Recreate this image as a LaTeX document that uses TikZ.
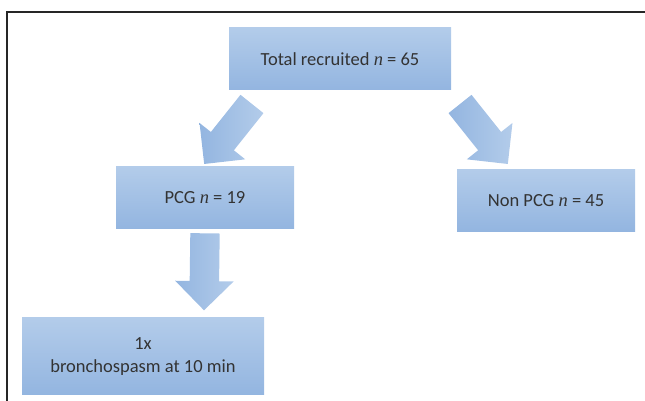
\documentclass[tikz,border=0pt]{standalone}
\usepackage{fontspec}
\setmainfont{Carlito}
\newfontfamily\countfont{Liberation Serif}
\usetikzlibrary{positioning}
\usetikzlibrary{calc}
\usetikzlibrary{shapes.arrows}
\definecolor{boxtop}{HTML}{B3CCEA}
\definecolor{boxbottom}{HTML}{93B5E0}
\definecolor{boxtext}{HTML}{333333}
\newcommand{\nvar}{{\countfont\itshape n}}
\tikzset{x=1pt, y=1pt, % Work in pixels of the figure
every box/.style={ % Sets the properties for each box
inner sep=0pt,
top color=boxtop, bottom color=boxbottom,
text=boxtext,
font=\fontsize{18.5}{22.5}\selectfont,
align=center,
minimum height=62pt},
flow arrow/.style={ % Sets the properties for each block arrow
single arrow,
inner xsep=0pt, inner ysep=14.5pt, % shaft is 29pt wide
single arrow head extend=14.5pt,
single arrow head indent=0pt,
left color=boxbottom, right color=boxtop,
shading angle=90}}
% block arrow from #1 to #2
\newcommand{\flowarrow}[2]{%
\path let \p1=(#1), \p2=(#2),
\n1={atan2(\y2-\y1,\x2-\x1)}, \n2={veclen(\x2-\x1,\y2-\y1)} in
node[flow arrow, minimum height=\n2, rotate=\n1, anchor=tip] at (\p2) {};}

\begin{document}
\begin{tikzpicture}
					\useasboundingbox (0,0) rectangle (645,-401);
					\draw[line width=1.3pt, black!85] (7,-401) -- (7,-12) -- (645,-12);

					\node[every box, minimum width=222pt] (total) at (340,-59) {Total recruited \nvar{} = 65};
					\node[every box, minimum width=178pt, below=76pt of total, xshift=-135pt] (pcg) {PCG \nvar{} = 19};
					\node[every box, minimum width=178pt, below=79pt of total, xshift=206pt] (nonpcg) {Non PCG \nvar{} = 45};
					\node[every box, minimum width=242pt, minimum height=77pt, below=89pt of pcg, xshift=-62pt] (spasm) {1x\\bronchospasm at 10 min};

					\flowarrow{$(total.south west)+(23,-14)$}{$(pcg.north)+(-1,2)$}
					\flowarrow{$(total.south east)+(9,-14)$}{$(nonpcg.north)+(-38,5)$}
					\flowarrow{$(pcg.south)+(0,-5)$}{$(spasm.north)+(61,7)$}
				\end{tikzpicture}
\end{document}
